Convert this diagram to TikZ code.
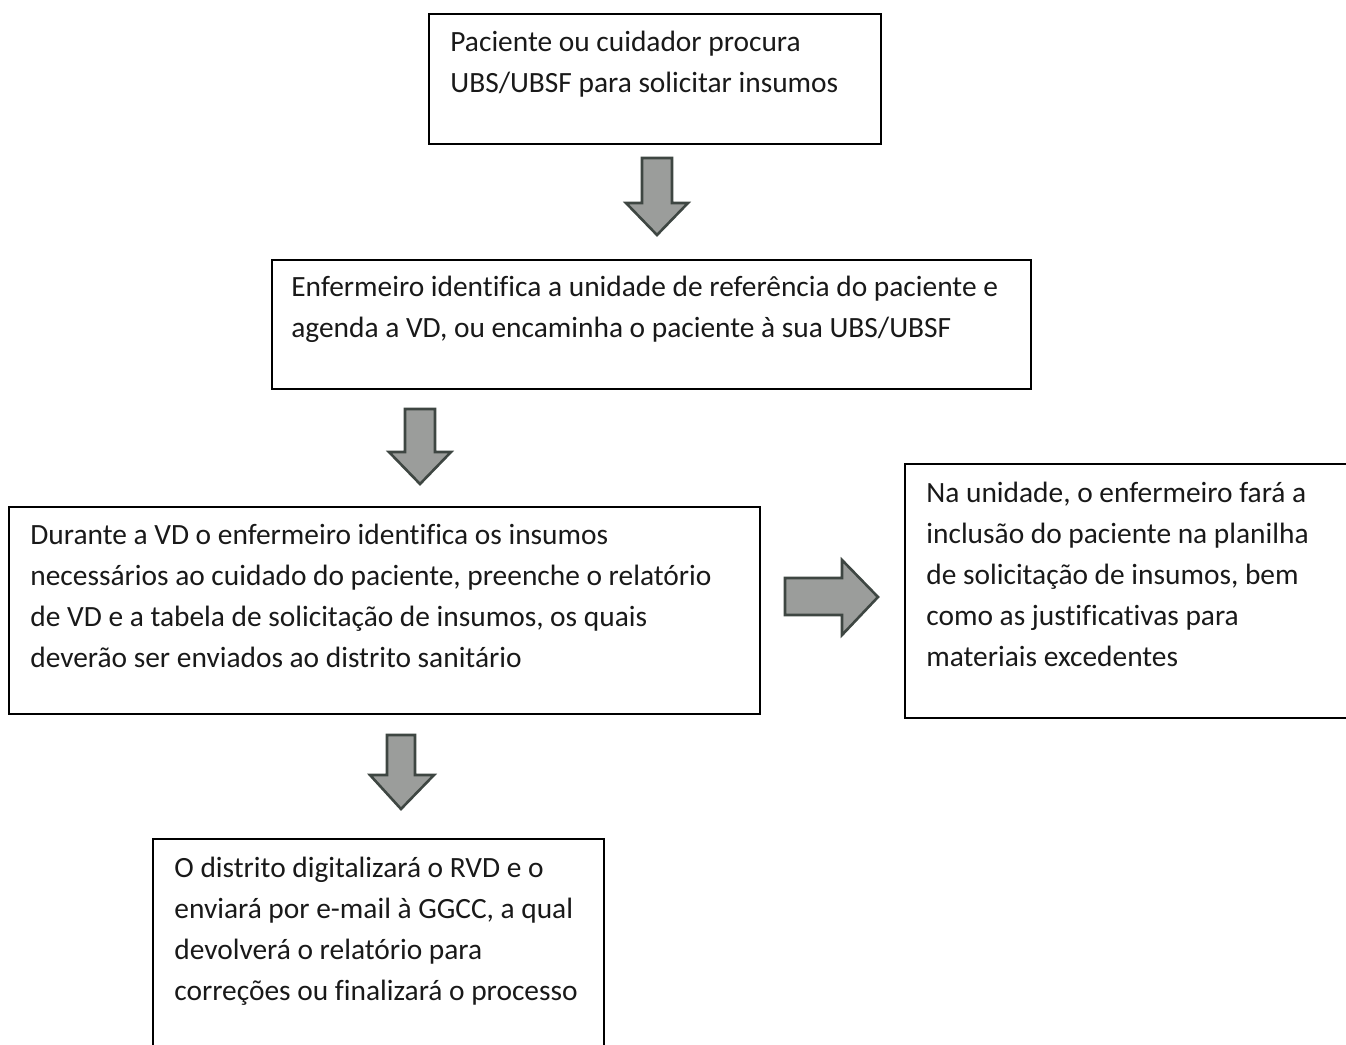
\documentclass[tikz,border=0pt]{standalone}
\usepackage{fontspec}
\setmainfont[Ligatures=CommonOff]{Carlito}
\usepackage{tikz}

\newcommand{\steplines}[1]{\parbox[t]{400pt}{\raggedright #1}}

\tikzset{
  stepbox/.style={draw=black, line width=0.8pt, rectangle, anchor=north west, inner sep=0pt},
  steptext/.style={anchor=base west, inner sep=0pt, text=black!90,
    font={\fontsize{14.7}{20.5}\selectfont}},
  blockarrow/.style={draw={rgb,255:red,62;green,70;blue,66}, line width=1.3pt,
    fill={rgb,255:red,155;green,157;blue,155}, line join=miter}
}

\begin{document}
\begin{tikzpicture}[x=0.5pt,y=0.5pt,yscale=-1,xscale=1]
\useasboundingbox (0,0) rectangle (1346,1045);
\clip (0,0) rectangle (1346,1045);
%Boxes
\node [stepbox, minimum width=452*0.5pt, minimum height=130*0.5pt] (b1) at (428,13) {};
\node [stepbox, minimum width=759*0.5pt, minimum height=129*0.5pt] (b2) at (271,259) {};
\node [stepbox, minimum width=751*0.5pt, minimum height=207*0.5pt] (b3) at (8,506) {};
\node [stepbox, minimum width=460*0.5pt, minimum height=254*0.5pt] (b4) at (904,463) {};
\node [stepbox, minimum width=451*0.5pt, minimum height=230*0.5pt] (b5) at (152,838) {};
% Text Node
\node [steptext] (t1) at (450,51) {\steplines{Paciente ou cuidador procura\\UBS/UBSF para solicitar insumos}};
% Text Node
\node [steptext] (t2) at (291,296) {\steplines{Enfermeiro identifica a unidade de referência do paciente e\\agenda a VD, ou encaminha o paciente à sua UBS/UBSF}};
% Text Node
\node [steptext] (t3) at (30,544) {\steplines{Durante a VD o enfermeiro identifica os insumos\\necessários ao cuidado do paciente, preenche o relatório\\de VD e a tabela de solicitação de insumos, os quais\\deverão ser enviados ao distrito sanitário}};
% Text Node
\node [steptext] (t4) at (926,502) {\steplines{Na unidade, o enfermeiro fará a\\inclusão do paciente na planilha\\de solicitação de insumos, bem\\como as justificativas para\\materiais excedentes}};
% Text Node
\node [steptext] (t5) at (174,877) {\steplines{O distrito digitalizará o RVD e o\\enviará por e-mail à GGCC, a qual\\devolverá o relatório para\\correções ou finalizará o processo}};
%Block Arrows
\draw [blockarrow] (642,158) -- (672,158) -- (672,203) -- (688,203) -- (657,235) -- (626,203) -- (642,203) -- cycle;
\draw [blockarrow] (405,409) -- (435,409) -- (435,452) -- (451,452) -- (420,484) -- (389,452) -- (405,452) -- cycle;
\draw [blockarrow] (387,735) -- (415,735) -- (415,775) -- (434,775) -- (401,809) -- (370,775) -- (387,775) -- cycle;
\draw [blockarrow] (785,578) -- (842,578) -- (842,560) -- (878,597) -- (842,635) -- (842,615) -- (785,615) -- cycle;
\end{tikzpicture}
\end{document}
